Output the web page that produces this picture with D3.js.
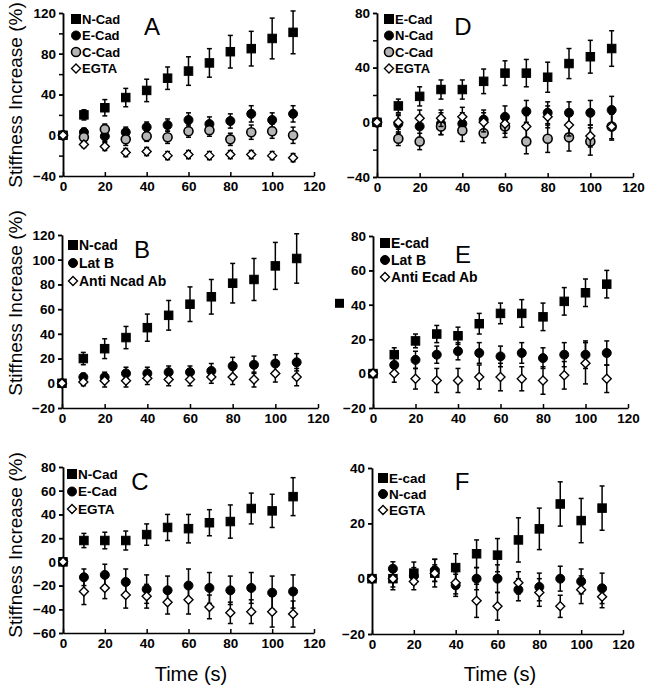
<!DOCTYPE html>
<html><head><meta charset="utf-8">
<script src="https://cdn.jsdelivr.net/npm/d3@7"></script>
<style>
body{margin:0;background:#fff;}
svg{display:block;}
text{font-family:"Liberation Sans",Arial,sans-serif;}
</style></head><body>
<svg id="c" width="646" height="688"></svg>
<script>
const time = [0,10,20,30,40,50,60,70,80,90,100,110];

// Panel A
const A_NCad = [0,20,27,37,44,56,63,71,82,85,95,101];
const A_NCad_err = [0,5,8,9,11,11,14,14,16,17,20,21];
const A_ECad = [0,3,-1,3,8,10,15,11,14,21,15,21];
const A_ECad_err = [0,4,5,5,5,6,7,7,7,8,7,8];
const A_CCad = [0,-2,6,-4,-1,-2,4,5,-4,3,4,0];
const A_CCad_err = [0,5,5,6,5,6,6,6,6,7,7,8];
const A_EGTA = [0,-9,-11,-17,-16,-20,-19,-20,-19,-19,-20,-22];
const A_EGTA_err = [0,3,4,4,4,4,4,4,4,4,4,4];

// Panel B
const B_Ncad = [0,20,28,37,45,55,64,70,81,84,95,101];
const B_Ncad_err = [0,5,8,9,11,12,14,14,16,17,19,20];
const B_LatB = [0,5,5,8,8,9,9,10,14,15,16,17];
const B_LatB_err = [0,3,4,5,5,5,5,6,7,7,7,7];
const B_AntiNcad = [0,1,2,2,4,3,3,5,5,3,8,5];
const B_AntiNcad_err = [0,3,5,5,5,5,5,5,6,6,7,7];

// Panel C
const C_NCad = [0,18,18,18,23,29,28,33,34,45,43,55];
const C_NCad_err = [0,6,7,8,9,11,12,11,14,13,14,16];
const C_ECad = [0,-13,-11,-17,-23,-24,-20,-22,-24,-22,-26,-25];
const C_ECad_err = [0,7,9,11,12,12,14,13,12,13,14,14];
const C_EGTA = [0,-25,-22,-28,-29,-34,-32,-38,-43,-42,-42,-44];
const C_EGTA_err = [0,11,9,11,10,10,12,10,9,10,13,11];

// Panel D
const D_ECad = [0,12,19,24,24,30,36,36,33,43,48,54];
const D_ECad_err = [0,5,7,7,7,9,9,10,11,11,12,13];
const D_NCad = [0,-1,-3,-1,-1,2,4,8,7,7,7,9];
const D_NCad_err = [0,7,8,8,8,7,8,8,8,8,9,10];
const D_CCad = [0,-12,-14,-3,-6,-8,-3,-14,-12,-11,-14,-3];
const D_CCad_err = [0,5,6,6,8,7,8,9,10,10,10,10];
const D_EGTA = [0,0,3,3,4,0,-1,-3,4,-2,-10,-3];
const D_EGTA_err = [0,5,6,6,7,7,7,8,8,8,8,9];

// Panel E
const E_Ecad = [0,11,19,23,22,29,35,35,33,42,47,52];
const E_Ecad_err = [0,4,4,5,5,6,6,8,8,8,8,8];
const E_LatB = [0,5,8,11,13,12,10,12,9,11,11,12];
const E_LatB_err = [0,4,5,5,5,6,6,6,6,7,8,7];
const E_AntiEcad = [0,0,-3,-4,-4,-2,-2,-3,-4,-1,6,-3];
const E_AntiEcad_err = [0,5,6,7,7,7,8,7,8,8,12,8];

// Panel F
const F_Ecad = [0,0,2,2,4,9,8.5,14,18,27,21,25.5];
const F_Ecad_err = [0,4,4,5,5,5,6,8,7.5,8,8,8];
const F_Ncad = [0,3.6,1,3,-2.4,0,0,-4,-3,0,-1,-3.5];
const F_Ncad_err = [0,2.5,3,4,4,4,5,4,5,4.5,4.5,5.5];
const F_EGTA = [0,0,-1,2,-1.5,-8,-10,-1.5,-5,-10,-4,-6.5];
const F_EGTA_err = [0,3,3,3,4,6,5,4,5,4,5,4];

const xTicks = [0,20,40,60,80,100,120];

const GREY = "#b5b5b5";
const S = (name, shape, fill, v, e) => ({name, shape, fill, v, e});

const panels = [
 {id:"A", x0:63, x1:314, yT:13, yB:176, dom:[-40,120], major:40, minor:20, ytitle:95,
  letter:[152,35], leg:{x:76, y:19, dy:16.5, fs:13},
  series:[S("N-Cad","square","#000",A_NCad,A_NCad_err), S("E-Cad","circle","#000",A_ECad,A_ECad_err),
          S("C-Cad","circle",GREY,A_CCad,A_CCad_err), S("EGTA","diamond","#fff",A_EGTA,A_EGTA_err)]},
 {id:"D", x0:377, x1:633, yT:13, yB:177, dom:[-40,80], major:40, minor:20,
  letter:[463,35], leg:{x:389, y:19, dy:16.5, fs:13},
  series:[S("E-Cad","square","#000",D_ECad,D_ECad_err), S("N-Cad","circle","#000",D_NCad,D_NCad_err),
          S("C-Cad","circle",GREY,D_CCad,D_CCad_err), S("EGTA","diamond","#fff",D_EGTA,D_EGTA_err)]},
 {id:"B", x0:62, x1:318, yT:235, yB:408, dom:[-20,120], major:20, minor:20, ytitle:303,
  letter:[142,258], leg:{x:73, y:245, dy:18, fs:14},
  series:[S("N-cad","square","#000",B_Ncad,B_Ncad_err), S("Lat B","circle","#000",B_LatB,B_LatB_err),
          S("Anti Ncad Ab","diamond","#fff",B_AntiNcad,B_AntiNcad_err)]},
 {id:"E", x0:373, x1:628, yT:236, yB:408, dom:[-20,80], major:20, minor:20,
  letter:[463,263], leg:{x:385, y:243, dy:17, fs:14}, stray:true,
  series:[S("E-cad","square","#000",E_Ecad,E_Ecad_err), S("Lat B","circle","#000",E_LatB,E_LatB_err),
          S("Anti Ecad Ab","diamond","#fff",E_AntiEcad,E_AntiEcad_err)]},
 {id:"C", x0:63, x1:314, yT:467, yB:633, dom:[-60,80], major:20, minor:20, ytitle:545, xtitle:191,
  letter:[140,490], leg:{x:72, y:474, dy:17.5, fs:13.5},
  series:[S("N-Cad","square","#000",C_NCad,C_NCad_err), S("E-Cad","circle","#000",C_ECad,C_ECad_err),
          S("EGTA","diamond","#fff",C_EGTA,C_EGTA_err)]},
 {id:"F", x0:372, x1:623, yT:468, yB:634, dom:[-20,40], major:20, minor:20, xtitle:500,
  letter:[462,490], leg:{x:383, y:478, dy:16, fs:13.5},
  series:[S("E-cad","square","#000",F_Ecad,F_Ecad_err), S("N-cad","circle","#000",F_Ncad,F_Ncad_err),
          S("EGTA","diamond","#fff",F_EGTA,F_EGTA_err)]}
];

const svg = d3.select("#c");

function marker(g, shape, fill, x, y, sz) {
  if (shape === "square") {
    g.append("rect").attr("x", x - sz/2).attr("y", y - sz/2).attr("width", sz).attr("height", sz)
      .attr("fill", "#000").attr("stroke", "#000").attr("stroke-width", 1);
  } else if (shape === "circle") {
    g.append("circle").attr("cx", x).attr("cy", y).attr("r", sz/2)
      .attr("fill", fill).attr("stroke", "#000").attr("stroke-width", fill === "#000" ? 1 : 1.6);
  } else {
    const h = sz/2;
    g.append("path").attr("d", `M${x},${y-h}L${x+h},${y}L${x},${y+h}L${x-h},${y}Z`)
      .attr("fill", "#fff").attr("stroke", "#000").attr("stroke-width", 1.4);
  }
}

panels.forEach(p => {
  const g = svg.append("g");
  const x = d3.scaleLinear().domain([0,120]).range([p.x0, p.x1]);
  const y = d3.scaleLinear().domain(p.dom).range([p.yB, p.yT]);

  g.append("g").attr("transform", `translate(${p.x0},0)`)
    .call(d3.axisLeft(y).tickValues(d3.range(p.dom[0], p.dom[1] + 0.1, p.minor)).tickSize(4).tickSizeOuter(0).tickFormat(""))
    .call(a => a.selectAll("line,path").attr("stroke", "#000").attr("stroke-width", 1.5));
  g.append("g").attr("transform", `translate(${p.x0},0)`)
    .call(d3.axisLeft(y).tickValues(d3.range(p.dom[0], p.dom[1] + 0.1, p.major)).tickSize(4).tickSizeOuter(0).tickPadding(3))
    .call(a => {
      a.selectAll("line,path").attr("stroke", "#000").attr("stroke-width", 1.5);
      a.selectAll("text").attr("font-size", 13.5).attr("font-weight", "bold").attr("fill", "#000")
        .attr("font-family", "'Liberation Sans',Arial,sans-serif");
    });
  g.append("g").attr("transform", `translate(0,${p.yB})`)
    .call(d3.axisBottom(x).tickValues(xTicks).tickSizeInner(-4).tickSizeOuter(0).tickPadding(5))
    .call(a => {
      a.selectAll("line,path").attr("stroke", "#000").attr("stroke-width", 1.5);
      a.selectAll("text").attr("font-size", 13.5).attr("font-weight", "bold").attr("fill", "#000")
        .attr("font-family", "'Liberation Sans',Arial,sans-serif");
    });

  p.series.forEach(s => {
    const sg = g.append("g");
    time.forEach((t, i) => {
      const e = s.e[i];
      if (e > 0) {
        const cx = x(t);
        sg.append("line").attr("x1", cx).attr("x2", cx).attr("y1", y(s.v[i] - e)).attr("y2", y(s.v[i] + e))
          .attr("stroke", "#000").attr("stroke-width", 1.5);
        [s.v[i] - e, s.v[i] + e].forEach(vv => {
          sg.append("line").attr("x1", cx - 2.5).attr("x2", cx + 2.5).attr("y1", y(vv)).attr("y2", y(vv))
            .attr("stroke", "#000").attr("stroke-width", 1.5);
        });
      }
    });
    time.forEach((t, i) => marker(sg, s.shape, s.fill, x(t), y(s.v[i]), s.shape === "square" ? 8.5 : 9));
  });

  p.series.forEach((s, i) => {
    const ly = p.leg.y + i * p.leg.dy;
    marker(g, s.shape, s.fill, p.leg.x, ly, 9);
    g.append("text").attr("x", p.leg.x + 6).attr("y", ly).attr("dy", "0.36em")
      .attr("font-size", p.leg.fs).attr("font-weight", "bold").text(s.name);
  });

  g.append("text").attr("x", p.letter[0]).attr("y", p.letter[1]).attr("text-anchor", "middle")
    .attr("font-size", 24).text(p.id);

  if (p.ytitle) {
    g.append("text").attr("transform", `translate(22,${p.ytitle}) rotate(-90)`).attr("text-anchor", "middle")
      .attr("font-size", 19).text("Stiffness Increase (%)");
  }
  if (p.xtitle) {
    g.append("text").attr("x", p.xtitle).attr("y", 681).attr("text-anchor", "middle")
      .attr("font-size", 20).text("Time (s)");
  }
  if (p.stray) {
    g.append("rect").attr("x", p.x0 - 38).attr("y", y(40) - 6).attr("width", 9).attr("height", 9).attr("fill", "#000");
  }
});
</script>
</body></html>
